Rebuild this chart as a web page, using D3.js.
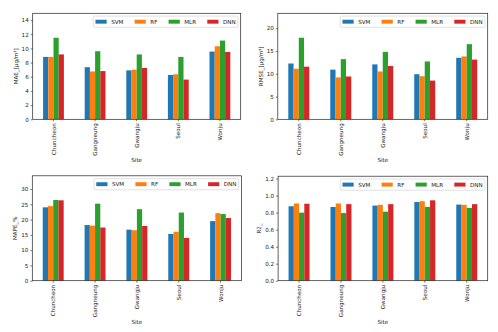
<!DOCTYPE html>
<html>
<head>
<meta charset="utf-8">
<script src="https://cdn.jsdelivr.net/npm/d3@7/dist/d3.min.js"></script>
<style>
  body { margin: 0; background: #fff; }
  svg { display: block; font-family: "DejaVu Sans", sans-serif; }
</style>
</head>
<body>
<svg id="chart" width="498" height="332"></svg>
<script>
// sites and models shared by all four panels
var sites = ["Chuncheon", "Gangneung", "Gwangju", "Seoul", "Wonju"];
var models = ["SVM", "RF", "MLR", "DNN"];
var colors = ["#1f77b4", "#ff7f0e", "#2ca02c", "#d62728"];

// one row per model (SVM, RF, MLR, DNN), one value per site
var maeValues = [
    [8.8, 7.35, 6.9, 6.25, 9.55],
    [8.8, 6.75, 7.0, 6.35, 10.3],
    [11.5, 9.6, 9.15, 8.8, 11.1],
    [9.15, 6.8, 7.25, 5.6, 9.5]
];
var rmseValues = [
    [12.25, 10.9, 12.05, 9.9, 13.5],
    [11.1, 9.2, 10.5, 9.45, 13.8],
    [17.9, 13.2, 14.8, 12.7, 16.5],
    [11.55, 9.4, 11.7, 8.5, 13.1]
];
var mapeValues = [
    [24.0, 18.2, 16.7, 15.3, 19.5],
    [24.4, 18.0, 16.5, 16.0, 22.1],
    [26.4, 25.2, 23.4, 22.3, 21.8],
    [26.3, 17.4, 17.9, 14.0, 20.5]
];
var r2Values = [
    [0.875, 0.867, 0.883, 0.925, 0.895],
    [0.908, 0.908, 0.892, 0.935, 0.892],
    [0.80, 0.795, 0.812, 0.868, 0.856],
    [0.905, 0.90, 0.90, 0.945, 0.90]
];

var maeTicks = [0, 2, 4, 6, 8, 10, 12, 14];
var rmseTicks = [0, 5, 10, 15, 20];
var mapeTicks = [0, 5, 10, 15, 20, 25, 30];
var r2Ticks = [0, 0.2, 0.4, 0.6, 0.8, 1.0, 1.2];

var fs = 5.6; // font size in px, everything else scales off it

var panels = [
    {values: maeValues, ticks: maeTicks, fmt: d3.format("d"), ylabel: "MAE_[μg/m³]",
     x0: 32.7, x1: 240.7, y0: 13.3, y1: 119.3},
    {values: rmseValues, ticks: rmseTicks, fmt: d3.format("d"), ylabel: "RMSE_[μg/m³]",
     x0: 277.8, x1: 487.7, y0: 13.3, y1: 119.3},
    {values: mapeValues, ticks: mapeTicks, fmt: d3.format("d"), ylabel: "MAPE_%",
     x0: 32.3, x1: 241.5, y0: 175.8, y1: 280.7},
    {values: r2Values, ticks: r2Ticks, fmt: d3.format(".1f"), ylabel: "R2_",
     x0: 278.1, x1: 487.7, y0: 176.2, y1: 280.7}
];

var svg = d3.select("#chart");

panels.forEach(function (p) {
    var g = svg.append("g");
    var maxVal = d3.max(p.values, function (row) { return d3.max(row); });

    var xScale = d3.scaleBand()
        .domain(sites)
        .range([p.x0, p.x1]);
    var inner = d3.scaleBand()
        .domain(models)
        .range([0, xScale.bandwidth() * 0.5]);
    var yScale = d3.scaleLinear()
        .domain([0, maxVal * 1.3])
        .range([p.y1, p.y0]);

    // bars
    models.forEach(function (m, mi) {
        g.append("g").selectAll("rect")
            .data(p.values[mi])
            .enter()
            .append("rect")
            .attr("x", function (d, i) {
                return xScale(sites[i]) + xScale.bandwidth() * 0.25 + inner(m);
            })
            .attr("width", inner.bandwidth())
            .attr("y", function (d) { return yScale(d); })
            .attr("height", function (d) { return p.y1 - yScale(d); })
            .attr("fill", colors[mi]);
    });

    // y axis
    var yAxis = d3.axisLeft(yScale)
        .tickValues(p.ticks)
        .tickFormat(p.fmt)
        .tickSize(2)
        .tickPadding(2);
    var yg = g.append("g")
        .attr("transform", "translate(" + p.x0 + ",0)")
        .call(yAxis);
    yg.select(".domain").remove();
    yg.selectAll("line").attr("stroke", "#222").attr("stroke-width", 0.6);
    yg.selectAll("text").attr("font-size", fs).attr("fill", "#222")
        .attr("font-family", "DejaVu Sans");

    // x axis, labels rotated
    var xAxis = d3.axisBottom(xScale).tickSize(2).tickPadding(2);
    var xg = g.append("g")
        .attr("transform", "translate(0," + p.y1 + ")")
        .call(xAxis);
    xg.select(".domain").remove();
    xg.selectAll("line").attr("stroke", "#222").attr("stroke-width", 0.6);
    xg.selectAll("text")
        .attr("font-size", fs)
        .attr("fill", "#222")
        .attr("font-family", "DejaVu Sans")
        .attr("text-anchor", "end")
        .attr("dy", null)
        .attr("dominant-baseline", "central")
        .attr("transform", "translate(0,4) rotate(-90)")
        .attr("x", 0)
        .attr("y", 0);

    // frame
    g.append("rect")
        .attr("x", p.x0)
        .attr("y", p.y0)
        .attr("width", p.x1 - p.x0)
        .attr("height", p.y1 - p.y0)
        .attr("fill", "none")
        .attr("stroke", "#222")
        .attr("stroke-width", 0.7);

    // axis labels, placed off the tick label extents
    var xbox = xg.node().getBBox();
    g.append("text")
        .attr("x", (p.x0 + p.x1) / 2)
        .attr("y", p.y1 + xbox.height + 2.2 + fs * 0.8)
        .attr("text-anchor", "middle")
        .attr("font-size", fs)
        .attr("fill", "#222")
        .text("Site");

    var ybox = yg.node().getBBox();
    var lx = p.x0 - ybox.width - 2.2 - fs * 0.3;
    g.append("text")
        .attr("transform", "translate(" + lx + "," + ((p.y0 + p.y1) / 2) + ") rotate(-90)")
        .attr("text-anchor", "middle")
        .attr("font-size", fs)
        .attr("fill", "#222")
        .text(p.ylabel);

    // legend, one row in the upper right
    var lg = g.append("g");
    var frame = lg.append("rect");
    var cx = 0;
    models.forEach(function (m, mi) {
        lg.append("rect")
            .attr("x", cx)
            .attr("y", -fs * 0.35)
            .attr("width", fs * 2)
            .attr("height", fs * 0.7)
            .attr("fill", colors[mi]);
        var t = lg.append("text")
            .attr("x", cx + fs * 2.8)
            .attr("y", fs * 0.36)
            .attr("font-size", fs)
            .attr("fill", "#222")
            .text(m);
        cx += fs * 2.8 + t.node().getComputedTextLength() + fs * 2;
    });
    var contentW = cx - fs * 2;
    var pad = fs * 0.4;
    var boxW = contentW + 2 * pad;
    var boxH = fs * 1.2 + 2 * pad;
    frame.attr("x", -pad)
        .attr("y", -boxH / 2)
        .attr("width", boxW)
        .attr("height", boxH)
        .attr("rx", 1)
        .attr("fill", "#fff")
        .attr("fill-opacity", 0.8)
        .attr("stroke", "#ccc")
        .attr("stroke-width", 0.6);
    var lxPos = p.x1 - fs * 0.5 - boxW + pad;
    var lyPos = p.y0 + fs * 0.5 + boxH / 2;
    lg.attr("transform", "translate(" + lxPos + "," + lyPos + ")");
});
</script>
</body>
</html>
